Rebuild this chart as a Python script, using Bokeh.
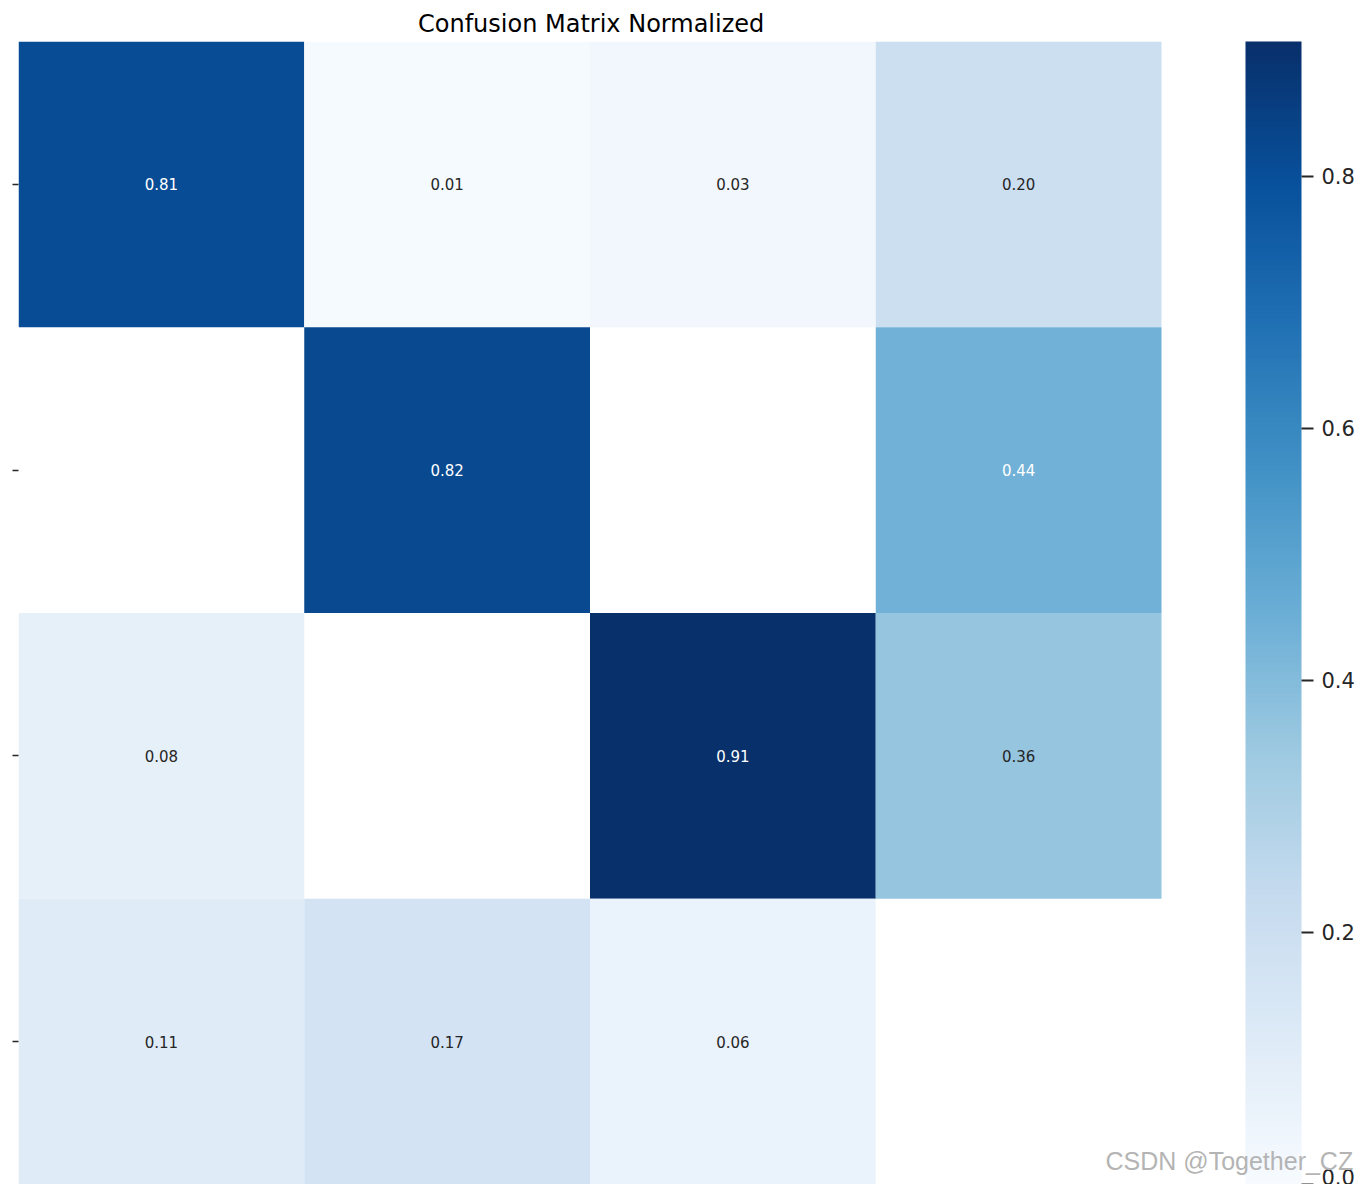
import numpy as np
from bokeh.plotting import figure
from bokeh.models import (ColumnDataSource, LinearColorMapper, ColorBar, FixedTicker,
                          PrintfTickFormatter, Range1d, Label)
from bokeh.core.properties import value
from bokeh.embed import file_html
from bokeh.resources import INLINE

# ---- data (column-normalized confusion matrix; blank cells are zero / hidden) ----
row_names = ["class_0", "class_1", "class_2", "class_3"]
col_names = ["class_0", "class_1", "class_2", "class_3"]
row0 = [0.81, 0.01, 0.03, 0.20]
row1 = [None, 0.82, None, 0.44]
row2 = [0.08, None, 0.907, 0.36]
row3 = [0.11, 0.17, 0.06, None]
cbar_ticks = [0.0, 0.2, 0.4, 0.6, 0.8]
title_text = "Confusion Matrix Normalized"
watermark = "CSDN @Together_CZ"

rows = [row0, row1, row2, row3]
vals = [v for r in rows for v in r if v is not None]
vmin, vmax = 0.0, max(vals)

# matplotlib "Blues" colormap (interpolated from the 9 ColorBrewer stops)
blues9 = ['#f7fbff', '#deebf7', '#c6dbef', '#9ecae1', '#6baed6',
          '#4292c6', '#2171b5', '#08519c', '#08306b']
def hex2rgb(h):
    h = h.lstrip('#')
    return np.array([int(h[i:i + 2], 16) for i in (0, 2, 4)], dtype=float)
stops = np.array([hex2rgb(c) for c in blues9])
pos = np.linspace(0, 1, len(blues9))
palette = []
for t in np.linspace(0, 1, 256):
    rgb = [np.interp(t, pos, stops[:, k]) for k in range(3)]
    palette.append('#%02x%02x%02x' % tuple(int(round(c)) for c in rgb))

def lum(hexc):
    rgb = hex2rgb(hexc) / 255.0
    rgb = np.where(rgb <= 0.03928, rgb / 12.92, ((rgb + 0.055) / 1.055) ** 2.4)
    return 0.2126 * rgb[0] + 0.7152 * rgb[1] + 0.0722 * rgb[2]

xs, ys, vs, labels, tcolors = [], [], [], [], []
for i, r in enumerate(rows):
    for j, v in enumerate(r):
        if v is None:
            continue
        xs.append(j + 0.5)
        ys.append(i + 0.5)
        vs.append(v)
        labels.append("%.2f" % v)
        idx = int(min(255, max(0, (v - vmin) / (vmax - vmin) * 256)))
        tcolors.append("#262626" if lum(palette[idx]) > 0.408 else "#ffffff")

src = ColumnDataSource(dict(x=xs, y=ys, v=vs, label=labels, tc=tcolors))
mapper = LinearColorMapper(palette=palette, low=vmin, high=vmax)

# layout (pixels)
LEFT, TOP = 18, 41
HEAT_W, HEAT_H = 1143, 1143
FRAME_W = 1360 - LEFT
ncols, nrows = len(col_names), len(row_names)

p = figure(frame_width=FRAME_W, frame_height=HEAT_H,
           x_range=Range1d(0, ncols * FRAME_W / HEAT_W), y_range=Range1d(nrows, 0),
           output_backend="svg", toolbar_location=None,
           x_axis_location=None, min_border_left=LEFT, min_border_right=0,
           min_border_top=TOP, min_border_bottom=0)
p.title.text = title_text
p.title.align = "left"
p.title.offset = HEAT_W / 2 - 172
p.title.text_font = "DejaVu Sans"
p.title.text_font_size = "24px"
p.title.text_font_style = "normal"
p.title.text_color = "#000000"
p.title.standoff = 7
p.outline_line_color = None
p.grid.visible = False
p.background_fill_color = "#ffffff"
p.border_fill_color = "#ffffff"

p.rect(x="x", y="y", width=1, height=1, source=src,
       fill_color={"field": "v", "transform": mapper}, line_color=None)
p.text(x="x", y="y", text="label", source=src, text_color="tc",
       text_align="center", text_baseline="middle",
       text_font=value("DejaVu Sans"), text_font_size="15px")

p.yaxis.ticker = FixedTicker(ticks=[i + 0.5 for i in range(nrows)])
p.yaxis.major_label_overrides = {i + 0.5: "" for i in range(nrows)}
p.yaxis.major_label_standoff = 0
p.yaxis.axis_line_color = None
p.yaxis.minor_tick_line_color = None
p.yaxis.major_tick_in = 0
p.yaxis.major_tick_out = 6
p.yaxis.major_tick_line_width = 1.5
p.yaxis.major_tick_line_color = "#262626"

cb = ColorBar(color_mapper=mapper, ticker=FixedTicker(ticks=cbar_ticks),
              formatter=PrintfTickFormatter(format="%.1f"),
              width=56, height=HEAT_H, padding=0, margin=0,
              location=(HEAT_W + 84, 0),
              background_fill_color=None, border_line_color=None,
              bar_line_color=None, major_tick_in=0, major_tick_out=12,
              major_tick_line_color="#262626", major_tick_line_width=2,
              minor_tick_line_color=None, label_standoff=8,
              major_label_text_font="DejaVu Sans",
              major_label_text_font_size="21px",
              major_label_text_color="#262626")
p.add_layout(cb, "center")

wm = Label(x=1087, y=24, x_units="screen", y_units="screen", text=watermark,
           text_font="Liberation Sans", text_font_size="25px",
           text_color="#b4b4b4", text_baseline="middle", text_align="left")
p.add_layout(wm)

open("out.html", "w").write(file_html(p, INLINE))
